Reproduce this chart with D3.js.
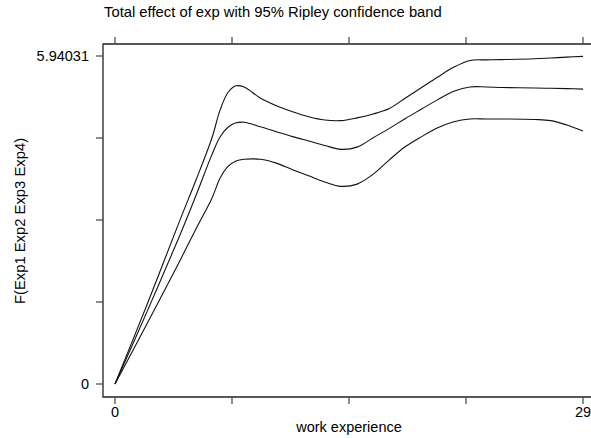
<!DOCTYPE html>
<html>
<head>
<meta charset="utf-8">
<script src="https://cdn.jsdelivr.net/npm/d3@7"></script>
<style>
  body { margin: 0; background: #fff; overflow: hidden; }
  svg { display: block; font-family: "Liberation Sans", Arial, sans-serif; }
</style>
</head>
<body>
<div id="chart"></div>
<script>
// work experience grid and the three fitted curves (upper band, estimate, lower band)
const exper = [0, 2, 4, 5, 6, 6.5, 7, 7.5, 8, 9, 10, 11, 12, 13, 14, 15, 16, 17, 18, 19, 20, 21, 22, 23, 24, 26, 27, 28, 29];
const upper = [0, 1.45, 2.95, 3.68, 4.45, 4.95, 5.28, 5.40, 5.38, 5.18, 5.04, 4.93, 4.84, 4.78, 4.77, 4.82, 4.89, 4.99, 5.18, 5.37, 5.56, 5.74, 5.86, 5.87, 5.875, 5.89, 5.905, 5.92, 5.934];
const estimate = [0, 1.32, 2.68, 3.40, 4.15, 4.47, 4.65, 4.73, 4.74, 4.66, 4.57, 4.48, 4.40, 4.32, 4.25, 4.29, 4.46, 4.63, 4.81, 4.98, 5.15, 5.30, 5.38, 5.38, 5.37, 5.36, 5.355, 5.35, 5.34];
const lower = [0, 1.10, 2.22, 2.80, 3.36, 3.72, 3.94, 4.04, 4.07, 4.07, 4.00, 3.88, 3.77, 3.66, 3.58, 3.62, 3.80, 4.06, 4.30, 4.48, 4.64, 4.75, 4.80, 4.80, 4.80, 4.79, 4.77, 4.69, 4.58];

const xTicks = [0, 7.25, 14.5, 21.75, 29];
const xLabels = { 0: "0", 29: "29" };
const yMax = 5.94031;
const yTicks = [0, yMax / 4, yMax / 2, yMax * 3 / 4, yMax];
const yLabels = new Map([[0, "0"], [yMax, "5.94031"]]);

const width = 591, height = 438;
const frame = { left: 103, top: 44, bottom: 397, right: 600 };

const x = d3.scaleLinear().domain([0, 29]).range([115, 583]);
const y = d3.scaleLinear().domain([0, yMax]).range([384, 56]);

const svg = d3.select("#chart").append("svg")
  .attr("width", width)
  .attr("height", height);

// frame (left, top, bottom)
svg.append("path")
  .attr("d", `M${frame.right},${frame.top}H${frame.left}V${frame.bottom}H${frame.right}`)
  .attr("fill", "none")
  .attr("stroke", "#222")
  .attr("stroke-width", 1.3);

// x ticks top & bottom
svg.append("g").selectAll("line")
  .data(xTicks)
  .join("line")
  .attr("x1", d => x(d)).attr("x2", d => x(d))
  .attr("y1", frame.top - 7).attr("y2", frame.top)
  .attr("stroke", "#444").attr("stroke-width", 1.2);

svg.append("g").selectAll("line")
  .data(xTicks)
  .join("line")
  .attr("x1", d => x(d)).attr("x2", d => x(d))
  .attr("y1", frame.bottom).attr("y2", frame.bottom + 7)
  .attr("stroke", "#444").attr("stroke-width", 1.2);

svg.append("g").selectAll("text")
  .data(xTicks.filter(d => xLabels[d] !== undefined))
  .join("text")
  .attr("x", d => x(d))
  .attr("y", 417)
  .attr("text-anchor", "middle")
  .attr("font-size", "14.5px")
  .text(d => xLabels[d]);

// y ticks
svg.append("g").selectAll("line")
  .data(yTicks)
  .join("line")
  .attr("x1", frame.left - 7).attr("x2", frame.left)
  .attr("y1", d => y(d)).attr("y2", d => y(d))
  .attr("stroke", "#444").attr("stroke-width", 1.2);

svg.append("g").selectAll("text")
  .data(yTicks.filter(d => yLabels.has(d)))
  .join("text")
  .attr("x", 89)
  .attr("y", d => y(d) + 5)
  .attr("text-anchor", "end")
  .attr("font-size", "14.5px")
  .text(d => yLabels.get(d));

// curves
const line = d3.line()
  .x((d, i) => x(exper[i]))
  .y(d => y(d))
  .curve(d3.curveCatmullRom.alpha(0.5));

svg.append("g").selectAll("path")
  .data([upper, estimate, lower])
  .join("path")
  .attr("d", line)
  .attr("fill", "none")
  .attr("stroke", "#111")
  .attr("stroke-width", 1.1);

// titles
svg.append("text")
  .attr("x", 104).attr("y", 17)
  .attr("font-size", "14.8px")
  .text("Total effect of exp with 95% Ripley confidence band");

svg.append("text")
  .attr("x", x(14.5)).attr("y", 432)
  .attr("text-anchor", "middle")
  .attr("font-size", "14.5px")
  .text("work experience");

svg.append("text")
  .attr("transform", "translate(25,221) rotate(-90)")
  .attr("text-anchor", "middle")
  .attr("font-size", "14.8px")
  .text("F(Exp1 Exp2 Exp3 Exp4)");
</script>
</body>
</html>
